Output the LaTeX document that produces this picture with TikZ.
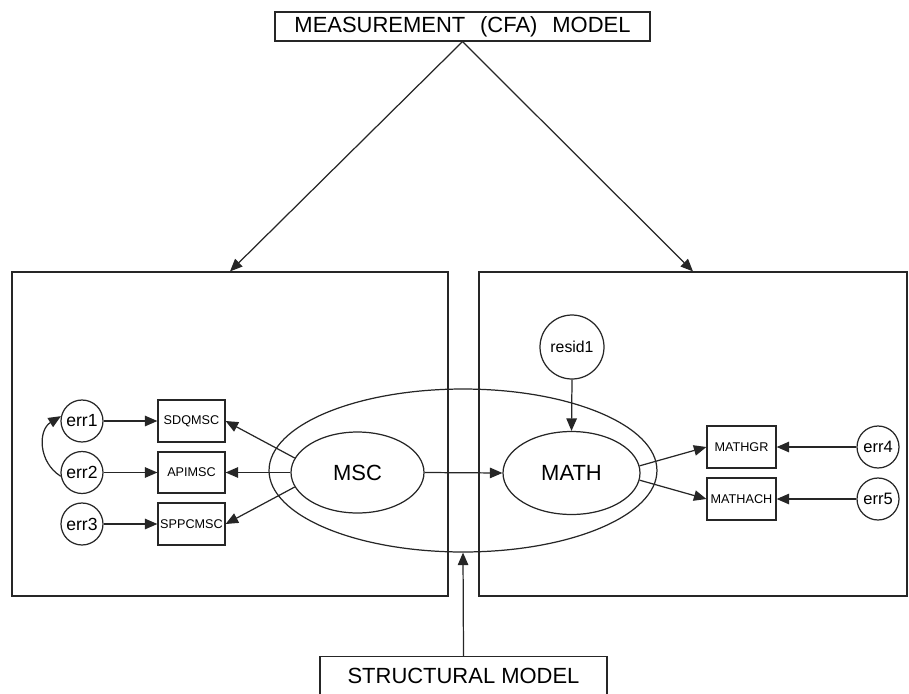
\documentclass[tikz,border=0pt]{standalone}
\usepackage{fontspec}
\setmainfont{Liberation Sans}
\usetikzlibrary{arrows.meta,shapes.geometric}
\begin{document}
\begin{tikzpicture}[x=0.02cm,y=-0.02cm,
  line width=0.7pt, draw=black!85,
  arr/.style={-{Triangle[length=0.25cm,width=0.21cm]}},
  errc/.style={circle,draw,inner sep=0pt,minimum size=0.84cm,font=\fontsize{10}{12}\selectfont},
  errr/.style={circle,draw,inner sep=0pt,minimum size=0.84cm,font=\fontsize{9.4}{11}\selectfont},
  ind/.style={rectangle,draw,inner sep=0pt,minimum width=1.34cm,minimum height=0.84cm,font=\fontsize{7.2}{8.5}\selectfont},
  indr/.style={rectangle,draw,inner sep=0pt,minimum width=1.38cm,minimum height=0.84cm,font=\fontsize{7.2}{8.5}\selectfont},
  lat/.style={ellipse,draw,inner sep=0pt,font=\fontsize{12.5}{15}\selectfont},
  bigbox/.style={rectangle,draw,inner sep=0pt,minimum height=6.48cm},
  title/.style={rectangle,draw,inner sep=0pt,font=\fontsize{12.5}{15}\selectfont}]
\useasboundingbox (0,0) rectangle (909,693);
\clip (0,0) rectangle (909,693);
% boxes
\node[bigbox,minimum width=8.72cm] (lbox) at (230,434) {};
\node[bigbox,minimum width=8.56cm] (rbox) at (693,434) {};
\node[title,minimum width=7.5cm,minimum height=0.58cm] (meas) at (462.5,26.5) {MEASUREMENT\hspace{0.4em} (CFA)\hspace{0.4em} MODEL};
\node[title,minimum width=5.74cm,minimum height=0.76cm,anchor=north] (struct) at (463.5,656) {STRUCTURAL MODEL};
% latent variables
\node[lat,minimum width=7.76cm,minimum height=3.26cm] (big) at (463,470.5) {};
\node[lat,minimum width=2.66cm,minimum height=1.62cm] (msc) at (357.5,472.5) {MSC};
\node[lat,minimum width=2.74cm,minimum height=1.66cm] (math) at (571.5,473) {MATH};
\node[circle,draw,inner sep=0pt,minimum size=1.28cm,font=\fontsize{9}{11}\selectfont] (resid) at (572,347) {resid1};
% indicators
\node[ind] (sdq) at (191.5,421) {SDQMSC};
\node[ind,minimum height=0.82cm] (api) at (191.5,472.5) {APIMSC};
\node[ind] (spp) at (191.5,524) {SPPCMSC};
\node[indr] (mgr) at (741.5,447) {MATHGR};
\node[indr] (mach) at (741.5,499) {MATHACH};
% errors
\node[errc] (e1) at (82,421) {err1};
\node[errc] (e2) at (82,472.5) {err2};
\node[errc] (e3) at (82,524) {err3};
\node[errr] (e4) at (878,447) {err4};
\node[errr] (e5) at (878,499) {err5};
% connectors
\draw[arr] (meas.south) -- (lbox.north);
\draw[arr] (meas.south) -- (rbox.north);
\draw[arr] (struct.north) -- (big.south);
\draw[arr] (msc.east) -- (math.west);
\draw[arr] (resid.south) -- (math.north);
\draw[arr] (msc.167) -- (sdq.east);
\draw[arr] (msc.west) -- (api.east);
\draw[arr] (msc.193) -- (spp.east);
\draw[arr] (math.6) -- (mgr.west);
\draw[arr] (math.-6) -- (mach.west);
\draw[arr] (e1.east) -- (sdq.west);
\draw[arr] (e2.east) -- (api.west);
\draw[arr] (e3.east) -- (spp.west);
\draw[arr] (e4.west) -- (mgr.east);
\draw[arr] (e5.west) -- (mach.east);
\draw[arr] (e2.190) .. controls (38,462) and (38,430) .. (e1.167);
\end{tikzpicture}
\end{document}
